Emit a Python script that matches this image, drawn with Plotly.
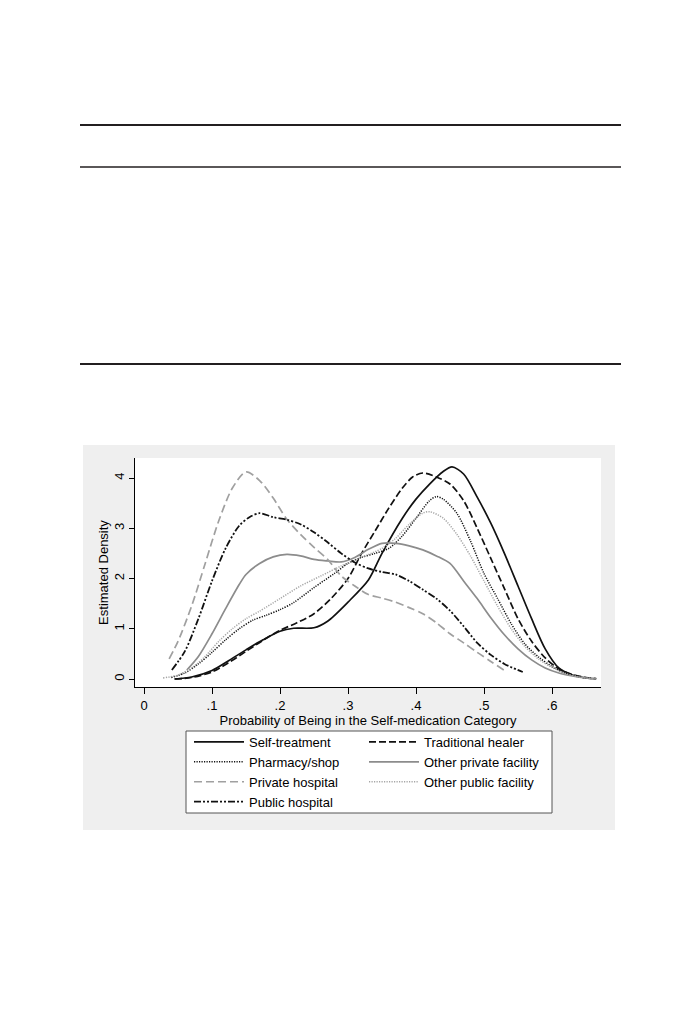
import plotly.graph_objects as go

# --- Page geometry (pixels) ---
W, H = 698, 1013
PAGE_OFFSET = 8  # default body margin of the html page
FONT = "Liberation Sans, Arial, sans-serif"

# --- Density curves ---
SELF_X = [0.045, 0.07, 0.1, 0.125, 0.15, 0.175, 0.2, 0.22, 0.25, 0.27, 0.3, 0.33, 0.35, 0.38, 0.4,
          0.42, 0.44, 0.453, 0.47, 0.49, 0.51, 0.53, 0.55, 0.57, 0.59, 0.61, 0.63, 0.65, 0.665]
SELF_Y = [0.0, 0.04, 0.17, 0.37, 0.58, 0.78, 0.95, 1.01, 1.02, 1.15, 1.53, 1.97, 2.5, 3.2, 3.58,
          3.88, 4.13, 4.22, 4.08, 3.62, 3.1, 2.5, 1.85, 1.2, 0.6, 0.22, 0.08, 0.02, 0.005]

HEALER_X = [0.045, 0.07, 0.1, 0.125, 0.15, 0.175, 0.2, 0.225, 0.25, 0.275, 0.3, 0.32, 0.34, 0.36,
            0.38, 0.395, 0.41, 0.43, 0.45, 0.47, 0.49, 0.51, 0.53, 0.55, 0.57, 0.59, 0.61, 0.63,
            0.65, 0.665]
HEALER_Y = [0.0, 0.03, 0.14, 0.33, 0.55, 0.77, 0.97, 1.12, 1.3, 1.6, 2.0, 2.5, 2.95, 3.4,
            3.8, 4.02, 4.1, 4.02, 3.88, 3.55, 3.0, 2.4, 1.8, 1.2, 0.75, 0.42, 0.2, 0.09,
            0.03, 0.01]

PHARM_X = [0.04, 0.06, 0.08, 0.1, 0.12, 0.14, 0.16, 0.18, 0.2, 0.22, 0.25, 0.28, 0.3, 0.32, 0.34,
           0.36, 0.38, 0.4, 0.42, 0.43, 0.44, 0.46, 0.48, 0.5, 0.52, 0.54, 0.56, 0.58, 0.6, 0.62,
           0.64, 0.66]
PHARM_Y = [0.03, 0.12, 0.3, 0.53, 0.78, 1.0, 1.17, 1.27, 1.38, 1.52, 1.82, 2.1, 2.3, 2.42, 2.5,
           2.6, 2.85, 3.2, 3.55, 3.63, 3.58, 3.3, 2.75, 2.1, 1.6, 1.1, 0.7, 0.44, 0.25, 0.11,
           0.04, 0.01]

OTH_PRIV_X = [0.063, 0.08, 0.1, 0.12, 0.14, 0.15, 0.17, 0.19, 0.21, 0.23, 0.25, 0.27, 0.29, 0.31,
              0.33, 0.35, 0.37, 0.39, 0.41, 0.43, 0.45, 0.47, 0.49, 0.51, 0.53, 0.55, 0.57, 0.59,
              0.61, 0.63, 0.65, 0.665]
OTH_PRIV_Y = [0.18, 0.45, 0.9, 1.4, 1.88, 2.08, 2.3, 2.43, 2.48, 2.45, 2.38, 2.35, 2.33, 2.42,
              2.58, 2.7, 2.7, 2.65, 2.57, 2.45, 2.3, 1.95, 1.6, 1.22, 0.88, 0.6, 0.38, 0.22,
              0.12, 0.06, 0.02, 0.005]

PRIV_HOSP_X = [0.037, 0.05, 0.07, 0.09, 0.11, 0.13, 0.15, 0.17, 0.19, 0.21, 0.23, 0.25, 0.27,
               0.29, 0.31, 0.33, 0.35, 0.37, 0.39, 0.41, 0.43, 0.45, 0.47, 0.49, 0.51, 0.53]
PRIV_HOSP_Y = [0.4, 0.75, 1.45, 2.3, 3.15, 3.8, 4.12, 3.95, 3.6, 3.18, 2.88, 2.62, 2.38,
               2.05, 1.85, 1.68, 1.61, 1.53, 1.42, 1.3, 1.12, 0.9, 0.72, 0.53, 0.35, 0.17]

OTH_PUB_X = [0.028, 0.05, 0.07, 0.09, 0.11, 0.13, 0.15, 0.17, 0.2, 0.23, 0.26, 0.29, 0.32, 0.35,
             0.37, 0.39, 0.41, 0.42, 0.44, 0.46, 0.48, 0.5, 0.52, 0.54, 0.56, 0.58, 0.6, 0.62,
             0.64, 0.66]
OTH_PUB_Y = [0.02, 0.08, 0.22, 0.45, 0.75, 1.0, 1.2, 1.35, 1.6, 1.85, 2.05, 2.25, 2.42, 2.6,
             2.8, 3.08, 3.3, 3.33, 3.2, 2.88, 2.45, 1.95, 1.45, 1.0, 0.65, 0.4, 0.23, 0.11,
             0.04, 0.01]

PUB_HOSP_X = [0.041, 0.06, 0.08, 0.1, 0.12, 0.14, 0.155, 0.17, 0.19, 0.21, 0.23, 0.25, 0.27,
              0.29, 0.31, 0.33, 0.35, 0.37, 0.39, 0.41, 0.43, 0.45, 0.47, 0.49, 0.51, 0.53, 0.557]
PUB_HOSP_Y = [0.18, 0.55, 1.2, 1.95, 2.6, 3.05, 3.22, 3.3, 3.22, 3.17, 3.08, 2.92, 2.72,
              2.5, 2.32, 2.2, 2.13, 2.08, 1.95, 1.78, 1.6, 1.36, 1.05, 0.72, 0.48, 0.3, 0.14]

X_TICKS = [0, 0.1, 0.2, 0.3, 0.4, 0.5, 0.6]
X_TICK_TEXT = ["0", ".1", ".2", ".3", ".4", ".5", ".6"]
Y_TICKS = [0, 1, 2, 3, 4]

# name, x, y, colour, dash, width, legend column
SERIES = [
    ("Self-treatment", SELF_X, SELF_Y, "#111111", "solid", 1.7, "legend"),
    ("Traditional healer", HEALER_X, HEALER_Y, "#111111", "7px,3px", 1.7, "legend2"),
    ("Pharmacy/shop", PHARM_X, PHARM_Y, "#111111", "1.2px,1.3px", 1.5, "legend"),
    ("Other private facility", OTH_PRIV_X, OTH_PRIV_Y, "#8c8c8c", "solid", 1.7, "legend2"),
    ("Private hospital", PRIV_HOSP_X, PRIV_HOSP_Y, "#a0a0a0", "8px,4px", 1.7, "legend"),
    ("Other public facility", OTH_PUB_X, OTH_PUB_Y, "#a6a6a6", "1.2px,1.3px", 1.5, "legend2"),
    ("Public hospital", PUB_HOSP_X, PUB_HOSP_Y, "#111111", "7px,2px,2px,2px,2px,2px", 1.8, "legend"),
]


def px_x(p):
    return (p - PAGE_OFFSET) / W


def px_y(p):
    return 1 - (p - PAGE_OFFSET) / H


fig = go.Figure()
for name, xs, ys, color, dash, width, leg in SERIES:
    fig.add_trace(go.Scatter(x=xs, y=ys, mode="lines", name=name, legend=leg,
                             line=dict(color=color, dash=dash, width=width, shape="spline", smoothing=0.8)))

shapes = []
# table rules above the figure
for y, lw in [(125, 2.2), (167, 1.4), (364, 2.2)]:
    shapes.append(dict(type="line", xref="paper", yref="paper", x0=px_x(80), x1=px_x(621),
                       y0=px_y(y), y1=px_y(y), line=dict(color="#231f20", width=lw)))
# grey graph region
shapes.append(dict(type="rect", xref="paper", yref="paper", layer="below",
                   x0=px_x(83), x1=px_x(615), y0=px_y(830), y1=px_y(445),
                   fillcolor="#efefef", line=dict(width=0)))
# white plot region
shapes.append(dict(type="rect", xref="x domain", yref="y domain", layer="below",
                   x0=0, x1=1, y0=0, y1=1, fillcolor="white", line=dict(width=0)))
# legend box
shapes.append(dict(type="rect", xref="paper", yref="paper", layer="below",
                   x0=px_x(186), x1=px_x(552), y0=px_y(813), y1=px_y(731),
                   fillcolor="white", line=dict(color="#555555", width=1)))

legend_style = dict(orientation="v", xanchor="left", yanchor="top", bgcolor="rgba(0,0,0,0)",
                    borderwidth=0, tracegroupgap=0, itemwidth=50,
                    font=dict(family=FONT, size=13, color="black"))

fig.update_layout(
    width=W, height=H,
    margin=dict(l=0, r=0, t=0, b=0),
    paper_bgcolor="white",
    plot_bgcolor="white",
    font=dict(family=FONT, size=13, color="black"),
    shapes=shapes,
    showlegend=True,
    legend=dict(x=px_x(189), y=px_y(727), **legend_style),
    legend2=dict(x=px_x(364), y=px_y(727), **legend_style),
    xaxis=dict(domain=[px_x(135), px_x(601)], range=[-0.01324, 0.67206],
               tickvals=X_TICKS, ticktext=X_TICK_TEXT, ticks="outside", ticklen=6,
               tickcolor="black", showline=True, linecolor="black", linewidth=1,
               showgrid=False, zeroline=False,
               title=dict(text="Probability of Being in the Self-medication Category",
                          standoff=0, font=dict(size=13))),
    yaxis=dict(domain=[px_y(687), px_y(458)], range=[-0.159, 4.398],
               tickvals=Y_TICKS, ticks="outside", ticklen=5, tickangle=-90,
               tickcolor="black", showline=True, linecolor="black", linewidth=1,
               showgrid=False, zeroline=False,
               title=dict(text="Estimated Density", standoff=0, font=dict(size=13))),
)

fig.write_html("out.html")
